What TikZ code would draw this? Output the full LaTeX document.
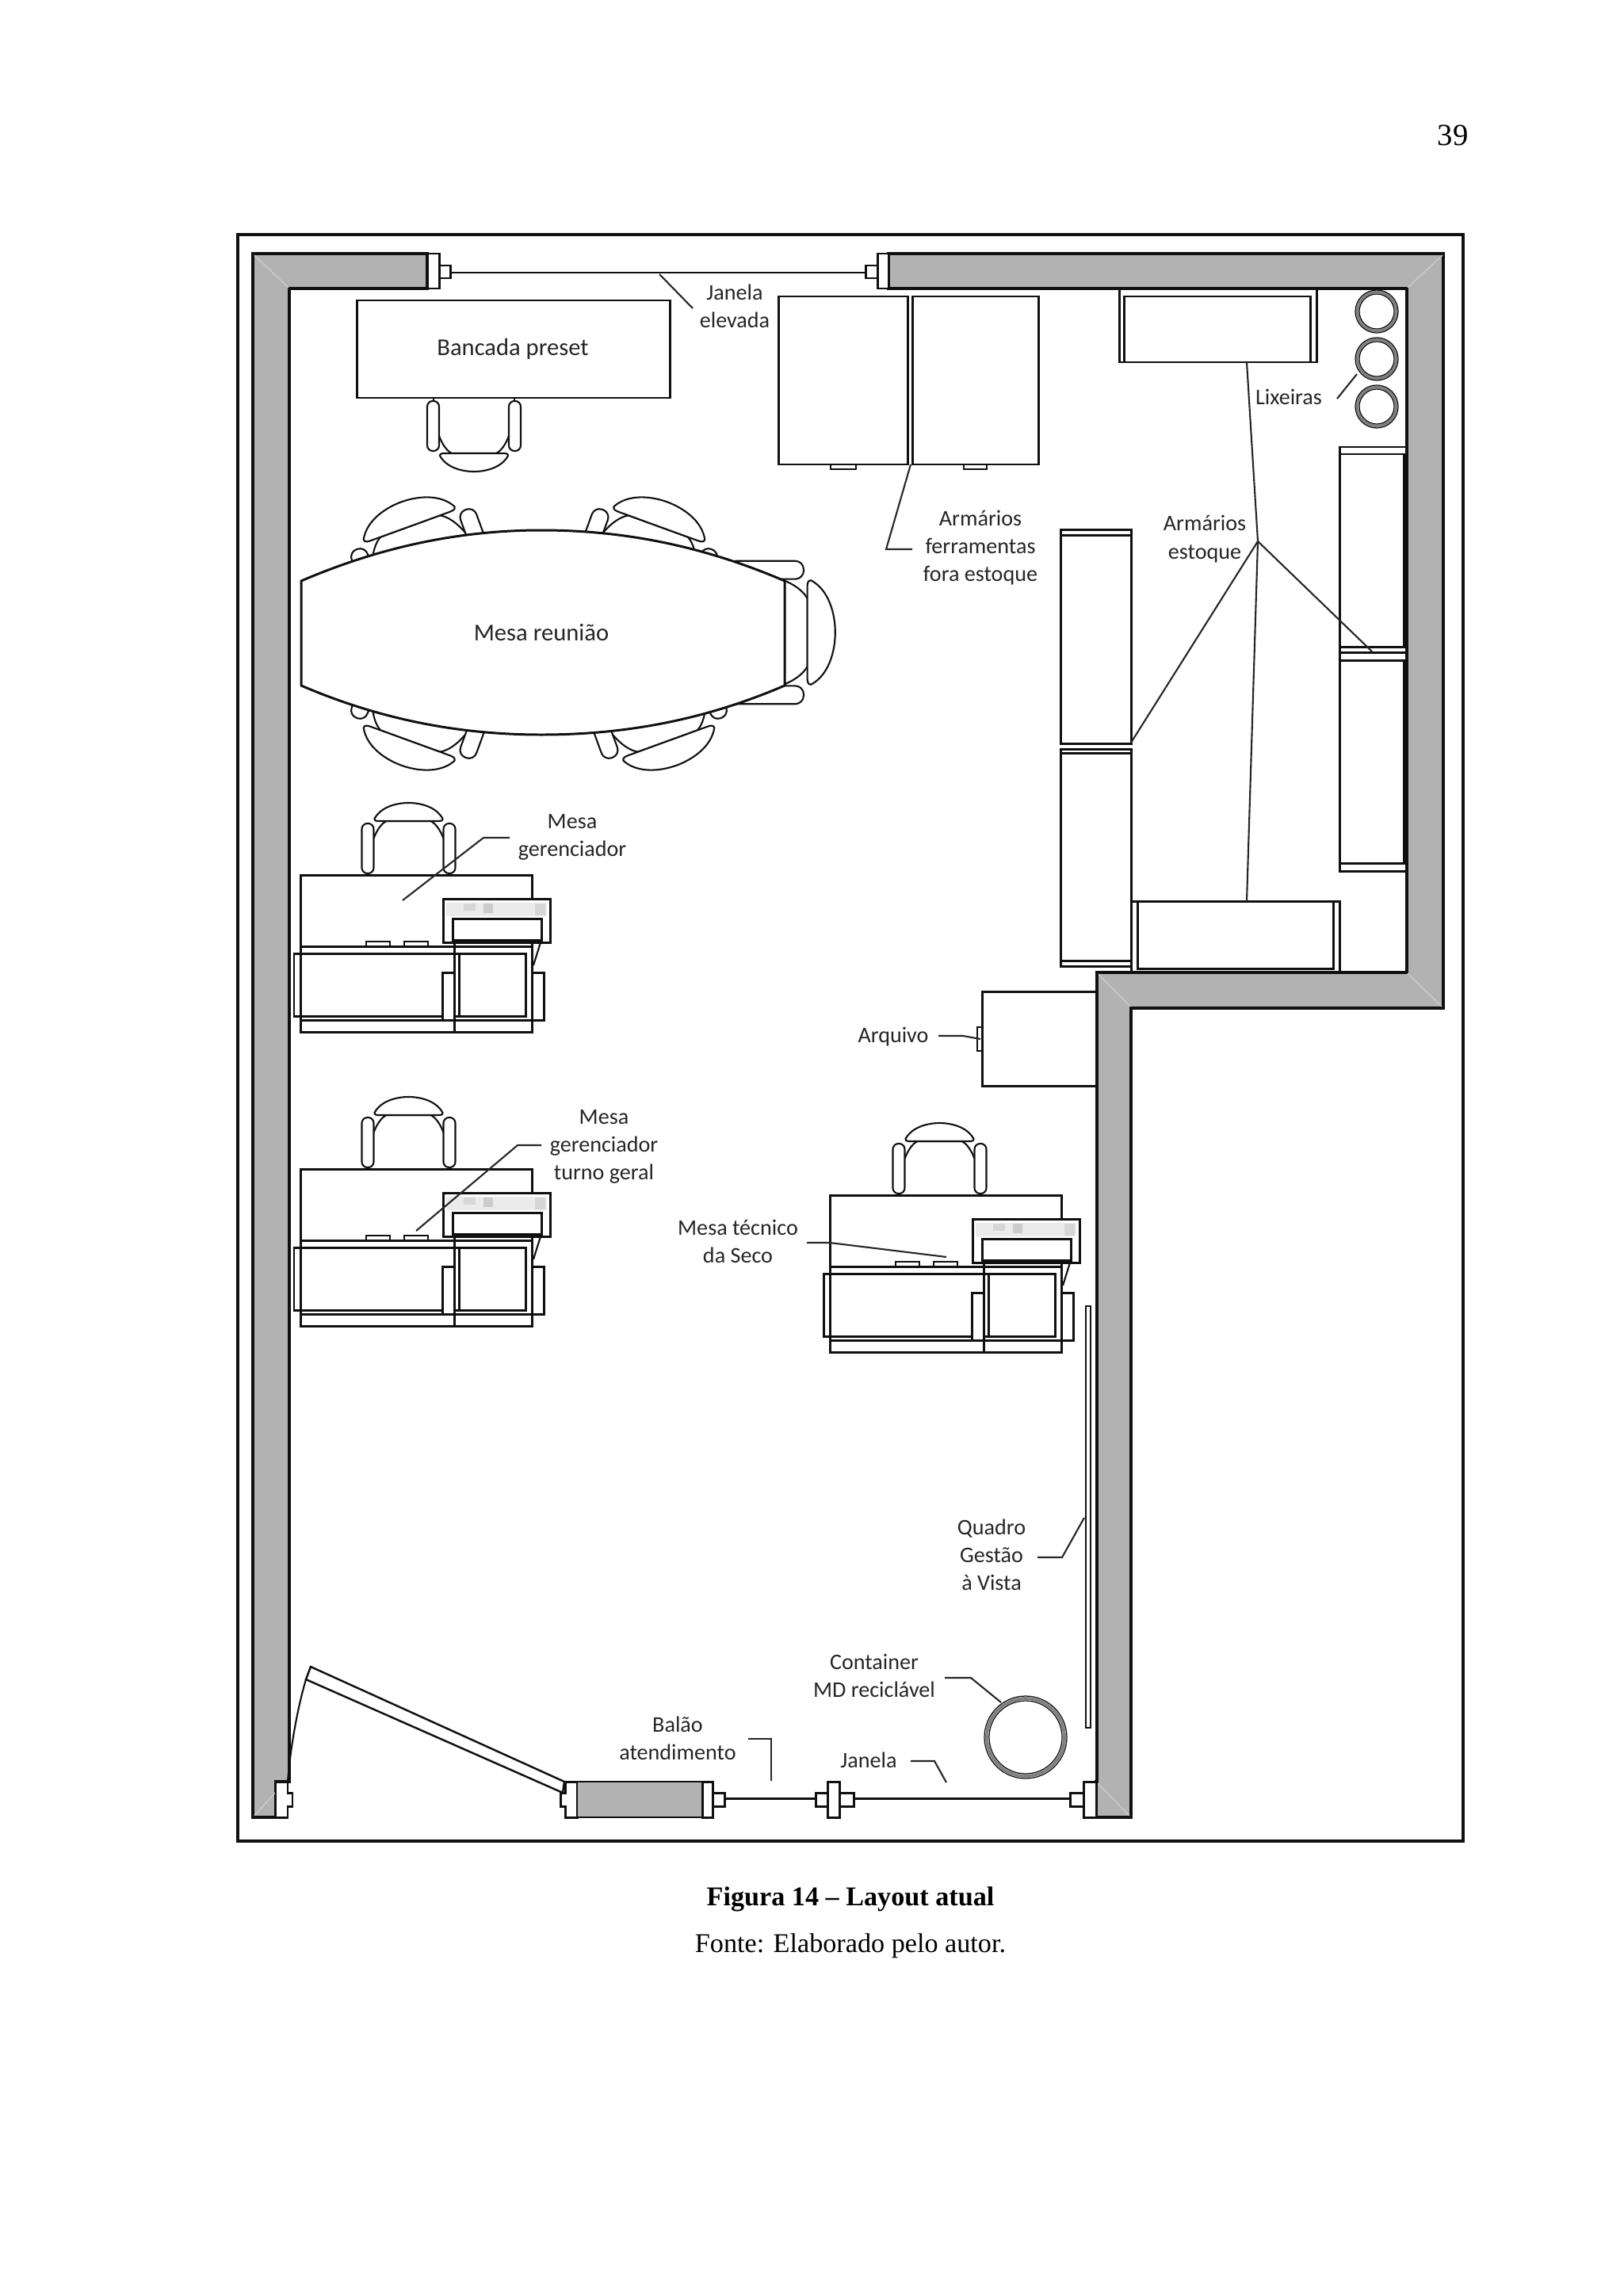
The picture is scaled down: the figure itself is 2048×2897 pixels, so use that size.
\documentclass[tikz,border=0pt]{standalone}
\usepackage{fontspec}
\setmainfont{Liberation Serif}
\newfontfamily\labelfont{Carlito}
\definecolor{wallgrey}{HTML}{B2B2B2}
\definecolor{walldiag}{HTML}{CDCDCD}
\definecolor{inkc}{HTML}{101010}
\definecolor{labc}{HTML}{262626}
\tikzset{
  ln/.style={draw=inkc,line width=0.85pt},
  thinln/.style={draw=inkc,line width=0.6pt},
  frameln/.style={draw=inkc,line width=0.95pt},
  wall/.style={draw=inkc,fill=wallgrey,line width=0.95pt},
  jamb/.style={draw=inkc,fill=white,line width=0.85pt},
  diag/.style={draw=walldiag,line width=0.35pt},
  lead/.style={draw=labc,line width=0.6pt},
  chairln/.style={draw=inkc,line width=0.6pt,fill=white},
  lbl/.style={text=labc,font=\labelfont\fontsize{8}{10}\selectfont,align=center,inner sep=0pt},
  biglbl/.style={text=labc,font=\labelfont\fontsize{8.7}{10}\selectfont,align=center,inner sep=0pt},
  captxt/.style={text=black,font=\fontsize{9.72}{12}\selectfont,inner sep=0pt,anchor=base},
}
\newcommand{\chairat}[4]{%
  \begin{scope}[shift={(#1,#2)},rotate=#3,scale=#4]
    \draw[thinln] (-51,-67) -- (-51,-63) (51,-67) -- (51,-63);
    \draw[thinln] (-44,-19) .. controls (-40,-8) and (-34,0) .. (-28,3) -- (28,3) .. controls (34,0) and (40,-8) .. (44,-19);
    \draw[chairln,rounded corners=#4*2pt] (-59,-63) rectangle (-44,0);
    \draw[chairln,rounded corners=#4*2pt] (44,-63) rectangle (59,0);
    \draw[chairln] (-43,6) .. controls (-43,3) and (-40,3) .. (-36,3) -- (36,3) .. controls (40,3) and (43,3) .. (43,6)
      .. controls (35,21) and (15,26) .. (0,26) .. controls (-15,26) and (-35,21) .. (-43,6) -- cycle;
  \end{scope}}
\newcommand{\deskat}[3]{%
  \begin{scope}[shift={(#1,#2)}]
    \chairat{#3}{1039}{180}{1}
    \draw[ln] (379,1104) rectangle (671,1302);
    \draw[ln] (379,1194) -- (671,1194);
    \draw[ln] (371,1203) rectangle (663,1282);
    \draw[ln] (379,1287) -- (686,1287);
    \draw[ln,fill=white] (558,1227) rectangle (573,1287);
    \draw[ln] (671,1227) rectangle (686,1287);
    \draw[ln] (579,1203) -- (579,1282);
    \draw[ln] (573,1189) -- (573,1302);
    \draw[thinln] (462,1194) -- (462,1188) -- (492,1188) -- (492,1194);
    \draw[thinln] (510,1194) -- (510,1188) -- (540,1188) -- (540,1194);
    \draw[ln,fill=white] (559,1134) rectangle (694,1189);
    \fill[black!8] (563,1139) rectangle (690,1156);
    \fill[black!16] (585,1140) rectangle (600,1149);
    \fill[black!20] (610,1140) rectangle (622,1152);
    \fill[black!16] (675,1140) rectangle (688,1155);
    \draw[ln,fill=white] (571,1159) rectangle (683,1186);
    \draw[thinln] (683,1186) -- (673,1218);
  \end{scope}}
\begin{document}
\begin{tikzpicture}[x=0.01cm,y=-0.01cm]
\useasboundingbox (0,0) rectangle (2048,2897);
\fill[white] (0,0) rectangle (2048,2897);

% page number and outer frame
\node[captxt,font=\fontsize{11}{13}\selectfont] (pagenum) at (1833,183) {39};
\draw[frameln] (300,296) rectangle (1846,2323);

% walls
\draw[wall] (539,320) -- (319,320) -- (319,2293) -- (348,2293) -- (348,2248) -- (365,2248) -- (365,364) -- (539,364) -- cycle;
\draw[wall] (1121,320) -- (1821,320) -- (1821,1272) -- (1427,1272) -- (1427,2293) -- (1383,2293) -- (1383,2248) -- (1384,2248) -- (1384,1227) -- (1775,1227) -- (1775,364) -- (1121,364) -- cycle;
\draw[diag] (321,322) -- (364,363);
\draw[diag] (1820,322) -- (1776,363);
\draw[diag] (1776,1228) -- (1819,1270);
\draw[diag] (1386,1229) -- (1426,1270);
\draw[diag] (1385,2250) -- (1425,2291);
\draw[diag] (321,2291) -- (347,2262);

% upper window
\draw[jamb] (539,320) rectangle (554,364);
\draw[jamb] (554,335) rectangle (568,351);
\draw[ln] (568,344) -- (1092,344);
\draw[jamb] (1092,335) rectangle (1107,351);
\draw[jamb] (1107,320) rectangle (1121,364);

% lower left jamb, door
\draw[jamb] (348,2248) -- (363,2248) -- (363,2262) -- (369,2262) -- (369,2279) -- (363,2279) -- (363,2293) -- (348,2293) -- cycle;
\draw[thinln] (386,2119) .. controls (374,2160) and (366,2210) .. (363,2248);
\draw[jamb,line width=0.7pt] (392,2103) -- (712,2248) -- (710,2262) -- (386,2119) -- cycle;

% counter and lower window
\draw[jamb] (713,2248) -- (713,2262) -- (707,2262) -- (707,2279) -- (713,2279) -- (713,2293) -- (728,2293) -- (728,2248) -- cycle;
\draw[wall,line width=0.8pt] (728,2248) rectangle (886,2293);
\draw[jamb] (886,2248) rectangle (899,2293);
\draw[jamb] (899,2262) rectangle (914,2279);
\draw[ln] (914,2269) -- (1029,2269);
\draw[jamb] (1029,2262) rectangle (1044,2279);
\draw[jamb] (1059,2262) rectangle (1077,2279);
\draw[jamb] (1044,2248) rectangle (1059,2293);
\draw[ln] (1077,2269) -- (1350,2269);
\draw[jamb] (1350,2262) rectangle (1367,2279);
\draw[jamb] (1367,2248) rectangle (1383,2293);

% bench and chair
\chairat{598}{569}{0}{1}
\draw[ln] (450,379) rectangle (845,502);

% meeting table and chairs
\chairat{519}{668}{200}{1.42}
\chairat{829}{668}{160}{1.42}
\chairat{519}{931}{-20}{1.42}
\chairat{841}{931}{20}{1.42}
\chairat{1014}{798}{90}{1.53}
\draw[ln,fill=white] (380,733) .. controls (480,690) and (580,669) .. (683,669) .. controls (790,669) and (890,690) .. (990,733) -- (990,865)
  .. controls (890,908) and (790,927) .. (683,927) .. controls (580,927) and (480,908) .. (380,865) -- cycle;

% tool cabinets
\draw[ln] (982,374) rectangle (1145,586);
\draw[ln] (1151,374) rectangle (1310,586);
\draw[thinln] (1048,586) -- (1048,592) -- (1080,592) -- (1080,586);
\draw[thinln] (1216,586) -- (1216,592) -- (1245,592) -- (1245,586);

% stock cabinets
\draw[ln] (1412.5,365) -- (1412.5,457) -- (1661,457) -- (1661,365);
\draw[ln] (1418,374) rectangle (1653,457);
\draw[ln] (1690,564) rectangle (1775,823);
\draw[ln] (1690,573) -- (1771,573) -- (1771,816) -- (1690,816);
\draw[ln] (1690,823) rectangle (1775,1099);
\draw[ln] (1690,833) -- (1771,833) -- (1771,1089) -- (1690,1089);
\draw[ln] (1338,668) rectangle (1427,938);
\draw[ln] (1338,675) -- (1427,675);
\draw[ln] (1338,945) rectangle (1427,1219);
\draw[ln] (1338,950) -- (1427,950);
\draw[ln] (1338,1212) -- (1427,1212);
\draw[ln] (1427,1219) -- (1427,1227);
\draw[ln] (1427,1137) -- (1690,1137) -- (1690,1227);
\draw[ln] (1435,1137) rectangle (1682,1222);
\draw[ln] (1427,1137) -- (1427,1219);

% bins
\foreach \cy in {393,453,513}{
  \draw[draw=black!50,line width=1pt] (1737,\cy) circle[radius=24.5];
  \draw[draw=inkc,line width=0.35pt] (1737,\cy) circle[radius=27];
  \draw[draw=inkc,line width=0.35pt] (1737,\cy) circle[radius=22];
}

% file cabinet
\draw[ln] (1384,1251) -- (1239,1251) -- (1239,1370) -- (1384,1370);
\draw[thinln] (1233,1296) rectangle (1239,1326);

% desks
\deskat{0}{0}{515.5}
\deskat{0}{371}{515.5}
\deskat{668}{404}{517.5}

% board
\draw[thinln] (1370,2180) -- (1370,1648) -- (1376,1648) -- (1376,2180) -- cycle;

% recycling container
\draw[draw=black!50,line width=1.1pt] (1294,2192) circle[radius=49];
\draw[draw=inkc,line width=0.35pt] (1294,2192) circle[radius=52];
\draw[draw=inkc,line width=0.35pt] (1294,2192) circle[radius=46];

% leaders
\draw[lead] (832,346) -- (874,389);
\draw[lead] (1149,586) -- (1118,693) -- (1151,693);
\draw[lead] (1687,503) -- (1712,472);
\draw[lead] (1573,457) -- (1587,683) -- (1573,1137);
\draw[lead] (1427,937) -- (1587,683) -- (1731,822);
\draw[lead] (1184,1307) -- (1215,1307) -- (1237,1311);
\draw[lead] (643,1057) -- (610,1057) -- (508,1136);
\draw[lead] (683,1445) -- (653,1445) -- (525,1553);
\draw[lead] (1018,1568) -- (1047,1568) -- (1194,1586);
\draw[lead] (1309,1965) -- (1340,1965) -- (1368,1915);
\draw[lead] (1192,2117) -- (1225,2117) -- (1263,2148);
\draw[lead] (1149,2222) -- (1179,2222) -- (1194,2249);
\draw[lead] (944,2194) -- (973,2194) -- (973,2247);

% labels
\node[biglbl] (bancada) at (647,440) {Bancada preset};
\node[lbl] (janelaelev) at (927,386) {Janela\\elevada};
\node[biglbl] (reuniao) at (683,798) {Mesa reunião};
\node[lbl] (ferramentas) at (1237,691) {Armários\\ferramentas\\fora estoque};
\node[lbl] (estoque) at (1520,680) {Armários\\estoque};
\node[lbl] (lixeiras) at (1626,501) {Lixeiras};
\node[lbl] (arquivo) at (1127,1308) {Arquivo};
\node[lbl] (gerenciador) at (722,1056) {Mesa\\gerenciador};
\node[lbl] (turno) at (762,1447) {Mesa\\gerenciador\\turno geral};
\node[lbl] (tecnico) at (931,1566) {Mesa técnico\\da Seco};
\node[lbl] (quadro) at (1251,1962) {Quadro\\Gestão\\à Vista};
\node[lbl] (container) at (1103,2114) {Container\\MD reciclável};
\node[lbl] (balao) at (855,2193) {Balão\\atendimento};
\node[lbl] (janela) at (1096,2221) {Janela};

% caption
\node[captxt,font=\bfseries\fontsize{9.72}{12}\selectfont] (figura) at (1073,2404) {Figura 14 – Layout atual};
\node[captxt] (fonte) at (1073,2463) {Fonte: Elaborado pelo autor.};
\end{tikzpicture}
\end{document}
